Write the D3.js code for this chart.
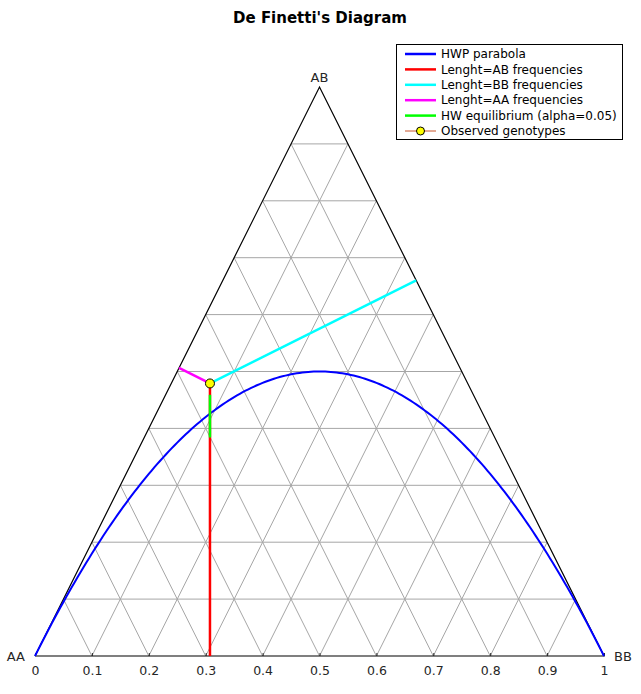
<!DOCTYPE html>
<html><head><meta charset="utf-8">
<script src="https://cdn.jsdelivr.net/npm/d3@7"></script>
<style>body{margin:0;background:#fff;} text{font-family:"DejaVu Sans",sans-serif;}</style>
</head><body>
<svg id="c" width="641" height="694"></svg>
<script>
// Data
const vertexLabels = ["AA", "BB", "AB"];
const tickValues = [0, 0.1, 0.2, 0.3, 0.4, 0.5, 0.6, 0.7, 0.8, 0.9, 1];
const gridLevels = [0.1, 0.2, 0.3, 0.4, 0.5, 0.6, 0.7, 0.8, 0.9];
const genotypeNames = ["AA", "AB", "BB"];
const genotypeFreqs = [0.453, 0.479, 0.068];
const hwInterval = [0.384, 0.459];   // acceptance range of AB frequency (alpha=0.05)
const legendLabels = ["HWP parabola", "Lenght=AB frequencies", "Lenght=BB frequencies",
  "Lenght=AA frequencies", "HW equilibrium (alpha=0.05)", "Observed genotypes"];
const legendColors = ["#0000ff", "#ff0000", "#00ffff", "#ff00ff", "#00ff00", "#c8552a"];

const svg = d3.select("#c");
const x = d3.scaleLinear().domain([0, 1]).range([35, 604]);
const y = d3.scaleLinear().domain([0, 1]).range([656, 87]);
const line = d3.line().x(d => x(d[0])).y(d => y(d[1]));

// Title
svg.append("text").attr("x", 320).attr("y", 23).attr("text-anchor", "middle")
  .attr("font-size", 15).attr("font-weight", "bold").text("De Finetti's Diagram");

// Grid
const g = svg.append("g").attr("stroke", "#a6a6a6").attr("stroke-width", 1).attr("fill", "none");
gridLevels.forEach(k => {
  g.append("path").attr("d", line([[k / 2, k], [1 - k / 2, k]]));        // horizontal
  g.append("path").attr("d", line([[k, 0], [(1 + k) / 2, 1 - k]]));      // parallel to left edge
  g.append("path").attr("d", line([[k, 0], [k / 2, k]]));                // parallel to right edge
});

// Triangle
svg.append("path").attr("d", line([[0, 0], [1, 0], [0.5, 1], [0, 0]]) )
  .attr("fill", "none").attr("stroke", "#000").attr("stroke-width", 1.2);

// Axis ticks
const axis = d3.axisBottom(x).tickValues(tickValues).tickSizeInner(-3).tickSizeOuter(0)
  .tickFormat(d3.format("~g"));
const ax = svg.append("g").attr("transform", `translate(0,${y(0)})`).call(axis)
  .attr("font-size", 12.5).attr("font-family", "DejaVu Sans, sans-serif");
ax.select(".domain").remove();
ax.selectAll(".tick line").attr("stroke", "#262626");
ax.selectAll(".tick text").attr("y", 10).attr("dy", "0.71em").attr("font-size", 12.5)
  .attr("fill", "#262626");

// Vertex labels
svg.append("text").attr("x", 25).attr("y", y(0) + 5).attr("text-anchor", "end").attr("font-size", 13).attr("fill", "#262626").text(vertexLabels[0]);
svg.append("text").attr("x", 614).attr("y", y(0) + 5).attr("text-anchor", "start").attr("font-size", 13).attr("fill", "#262626").text(vertexLabels[1]);
svg.append("text").attr("x", x(0.5)).attr("y", y(1) - 5).attr("text-anchor", "middle").attr("font-size", 13).attr("fill", "#262626").text(vertexLabels[2]);

// HW parabola
const pts = d3.range(0, 1.0001, 0.005).map(p => [p, 2 * p * (1 - p)]);
svg.append("path").attr("d", line(pts)).attr("fill", "none").attr("stroke", legendColors[0]).attr("stroke-width", 2);

// Observed point
const AA = genotypeFreqs[0], AB = genotypeFreqs[1], BB = genotypeFreqs[2];
const px = BB + AB / 2, py = AB;
// feet of perpendiculars (data coords) to left edge (y=2x) and right edge (y=2-2x)
const tL = (px + 2 * py) / 5; const footL = [tL, 2 * tL];
const tR = (4 + px - 2 * py) / 5; const footR = [tR, 2 - 2 * tR];

svg.append("path").attr("d", line([[px, py], [px, 0]])).attr("stroke", legendColors[1]).attr("stroke-width", 2.5);
svg.append("path").attr("d", line([[px, py], footR])).attr("stroke", legendColors[2]).attr("stroke-width", 2.5);
svg.append("path").attr("d", line([[px, py], footL])).attr("stroke", legendColors[3]).attr("stroke-width", 2.5);
svg.append("path").attr("d", line([[px, hwInterval[0]], [px, hwInterval[1]]])).attr("stroke", legendColors[4]).attr("stroke-width", 2.5);
svg.append("circle").attr("cx", x(px)).attr("cy", y(py)).attr("r", 4.5)
  .attr("fill", "#ffff00").attr("stroke", "#000").attr("stroke-width", 1);

// Legend
const lg = svg.append("g");
lg.append("rect").attr("x", 396.5).attr("y", 44.5).attr("width", 226).attr("height", 95)
  .attr("fill", "#fff").attr("stroke", "#000").attr("stroke-width", 1);
legendLabels.forEach((t, i) => {
  const yy = 54 + i * 15.4;
  lg.append("line").attr("x1", 405).attr("x2", 436).attr("y1", yy).attr("y2", yy)
    .attr("stroke", legendColors[i]).attr("stroke-width", i === 5 ? 1 : 2.5);
  if (i === 5) lg.append("circle").attr("cx", 420.5).attr("cy", yy).attr("r", 4)
    .attr("fill", "#ffff00").attr("stroke", "#000").attr("stroke-width", 1);
  lg.append("text").attr("x", 441).attr("y", yy + 4.2).attr("font-size", 12).attr("fill", "#000").text(t);
});
</script>
</body></html>
